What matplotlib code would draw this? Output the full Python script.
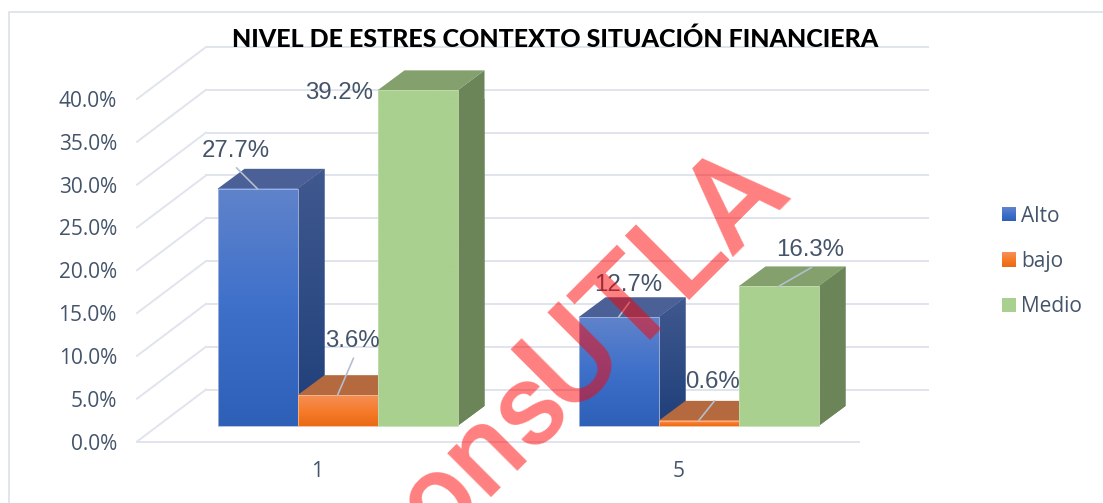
import numpy as np
import matplotlib
matplotlib.use("Agg")
import matplotlib.pyplot as plt
from matplotlib.colors import LinearSegmentedColormap
from matplotlib.legend_handler import HandlerBase
from matplotlib.lines import Line2D
from matplotlib.patches import Polygon, Rectangle
from matplotlib.transforms import Affine2D, IdentityTransform

# ---- data ----
categories = ["1", "5"]
series_names = ["Alto", "bajo", "Medio"]
alto = [27.7, 12.7]
bajo = [3.6, 0.6]
medio = [39.2, 16.3]
y_ticks = [0, 5, 10, 15, 20, 25, 30, 35, 40]
title_text = "NIVEL DE ESTRES CONTEXTO SITUACIÓN FINANCIERA"
watermark_head = "cons"
watermark_tail = "UTLA"

# ---- styles ----
W, H = 1103, 503
TEXT = "#44546A"
GRID = "#E0E4EC"
front_cols = [("#6083CB", "#3E70CA", "#2E60B8"),
              ("#F58F57", "#F67C2C", "#EB6A14"),
              ("#A9D08E", "#A9D08E", "#A9D08E")]
side_cols = [("#40598F", "#1F3F7A"), ("#9A5A30", "#9A5A30"), ("#6B8559", "#6B8559")]
top_cols = ["#4A6096", "#B5693E", "#83A06D"]
edge_cols = ["#A9B9DC", "#F5B993", "#C3DDB1"]
# label offsets in pixels from each bar's top centre: (text dx, dy), (leader dx, dy)
label_offsets = [[(-21.5, 38), (15, 54), (-78, -3)], [(10, 32), (14, 39), (32, 36)]]
leader_offsets = [[(-21, 21), (16, 37), None], [(11, 15), (16, 20), (33, 19)]]

fig = plt.figure(figsize=(W / 100, H / 100), dpi=100)
L, R, B, T = 137, 859, 441.5, 99
ax = fig.add_axes([L / W, 1 - B / H, (R - L) / W, (B - T) / H])
ax.set_xlim(0, 2)
ax.set_ylim(0, 40)
ax.patch.set_visible(False)
for s in ax.spines.values():
    s.set_visible(False)
px_x = (R - L) / 2          # pixels per category
px_y = (B - T) / 40         # pixels per percent


def shifted(dx, dy):
    return ax.transData + Affine2D().translate(dx, dy)


back = shifted(69, 52)
plane = shifted(20, 15.5)
depth_x, depth_y = 27 / px_x, 20 / px_y

# gridlines on the wall and floor
for v in y_ticks:
    ax.plot([0, 2], [v, v], transform=back, color=GRID, lw=1.4, clip_on=False, zorder=1)
    ax.add_line(Line2D([L, L + 69], [H - (B - v * px_y), H - (B - v * px_y) + 52],
                       transform=IdentityTransform(), color=GRID, lw=1.4, zorder=1, clip_on=False))
ax.plot([0, 2], [0, 0], color=GRID, lw=1.4, clip_on=False, zorder=1)

# bars
bar_w = 80 / px_x
centres = np.array([0.5, 1.5])
all_values = [alto, bajo, medio]
z = 2.0
for g in range(len(categories)):
    for i, vals in enumerate(all_values):
        v = vals[g]
        x = centres[g] + (i - 1) * bar_w
        x0, x1 = x - bar_w / 2, x + bar_w / 2
        # side face
        side = Polygon([(x1, 0), (x1 + depth_x, depth_y), (x1 + depth_x, v + depth_y), (x1, v)],
                       transform=plane, facecolor=side_cols[i][0], edgecolor="none", zorder=z, clip_on=False)
        ax.add_patch(side)
        cm = LinearSegmentedColormap.from_list("s", side_cols[i])
        im = ax.imshow(np.linspace(0, 1, 128)[:, None], cmap=cm, aspect="auto", origin="upper",
                       extent=[x1, x1 + depth_x, 0, v + depth_y], transform=plane,
                       zorder=z + 0.01, interpolation="bilinear")
        im.set_clip_path(side)
        # top face
        ax.add_patch(Polygon([(x0, v), (x0 + depth_x, v + depth_y), (x1 + depth_x, v + depth_y), (x1, v)],
                             transform=plane, facecolor=top_cols[i], edgecolor="none",
                             zorder=z + 0.02, clip_on=False))
        # front face with gradient
        cm = LinearSegmentedColormap.from_list("f", front_cols[i])
        im = ax.imshow(np.linspace(0, 1, 128)[:, None], cmap=cm, aspect="auto", origin="upper",
                       extent=[x0, x1, 0, v], transform=plane, zorder=z + 0.03, interpolation="bilinear")
        im.set_clip_on(False)
        ax.bar(x, v, bar_w, transform=plane, facecolor="none", edgecolor=edge_cols[i],
               lw=0.6, zorder=z + 0.04, clip_on=False)
        z += 0.1
ax.set_xlim(0, 2)
ax.set_ylim(0, 40)

# data labels and leader lines
for g in range(len(categories)):
    for i, vals in enumerate(all_values):
        v = vals[g]
        x = centres[g] + (i - 1) * bar_w
        lead = leader_offsets[g][i]
        if lead is not None:
            ax.annotate("", xy=(x, v), xycoords=plane, xytext=lead, textcoords="offset pixels",
                        arrowprops=dict(arrowstyle="-", color="#B4BECD", lw=1.2, shrinkA=0, shrinkB=0),
                        zorder=6, annotation_clip=False)
        ax.annotate(f"{v:.1f}%", xy=(x, v), xycoords=plane, xytext=label_offsets[g][i],
                    textcoords="offset pixels", ha="center", va="center", fontsize=17.3,
                    family="Liberation Sans", color=TEXT, zorder=7, annotation_clip=False)

# axes ticks
ax.set_yticks(y_ticks, [f"{v:.1f}%" for v in y_ticks], family="Open Sans", fontsize=15, color=TEXT)
ax.set_xticks(centres, categories, family="Open Sans", fontsize=15, color=TEXT)
ax.tick_params(axis="y", length=0, pad=14.5)
ax.tick_params(axis="x", length=0, pad=14)


# legend with gradient swatches
class GradientHandler(HandlerBase):
    def __init__(self, colors):
        super().__init__()
        self.colors = colors

    def create_artists(self, legend, orig, xd, yd, w, h, fs, trans):
        cm = LinearSegmentedColormap.from_list("l", self.colors)
        n = 14
        side = 14 * 0.72
        y0 = (h - side) / 2 - yd
        return [Rectangle((-xd, y0 + side * (1 - (k + 1) / n)), side, side / n + 0.2,
                          facecolor=cm(k / (n - 1)), edgecolor="none", transform=trans)
                for k in range(n)]


handles = [Rectangle((0, 0), 1, 1) for _ in series_names]
fig.legend(handles, series_names, loc="center left",
           bbox_to_anchor=(1002 / W, 1 - 261.5 / H), frameon=False, borderpad=0, borderaxespad=0,
           prop={"family": "Open Sans", "size": 15}, labelcolor=TEXT,
           handlelength=0.67, handletextpad=0.26, labelspacing=1.17,
           handler_map={h: GradientHandler(c) for h, c in zip(handles, front_cols)})

# title, frame, watermark
fig.text(555.5 / W, 1 - 39.5 / H, title_text, ha="center", va="center", family="Lato",
         weight="black", fontsize=18.0, color="black", zorder=8)
fig.add_artist(Line2D([9 / W, 9 / W, 1], [0, 1 - 12 / H, 1 - 12 / H], color="#DCE1EA", lw=1.2))
fig.text(790 / W, 1 - 192 / H, watermark_tail, rotation=45, rotation_mode="anchor",
         ha="right", va="baseline", family="Roboto", weight=500, fontsize=92,
         color="#FF0000", alpha=0.5, zorder=9)
fig.text(574 / W, 1 - 410 / H, watermark_head, rotation=45, rotation_mode="anchor",
         ha="right", va="baseline", family="Roboto", weight=500, fontsize=84,
         color="#FF0000", alpha=0.5, zorder=9)

fig.savefig("out.png", dpi=100)
